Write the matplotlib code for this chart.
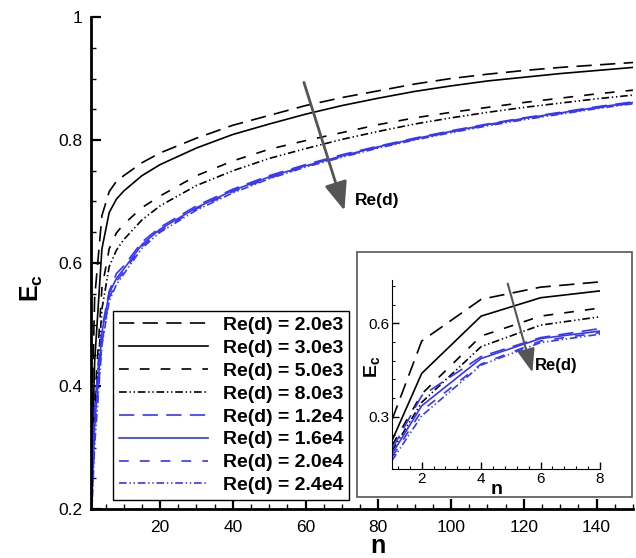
import matplotlib
matplotlib.use("Agg")
import matplotlib.pyplot as plt
from matplotlib.patches import Rectangle
from matplotlib.ticker import MultipleLocator, FixedLocator, FixedFormatter

plt.rcParams["font.family"] = ["Liberation Sans", "DejaVu Sans"]
plt.rcParams["mathtext.fontset"] = "custom"
plt.rcParams["mathtext.rm"] = "Liberation Sans"
plt.rcParams["mathtext.bf"] = "Liberation Sans:bold"
plt.rcParams["lines.scale_dashes"] = False

# sample points along n
n_vals = [1, 2, 4, 6, 8, 10, 15, 20, 30, 40, 50, 60, 70, 80, 90, 100, 110, 120, 130, 140, 150]

ec_2000 = [0.290, 0.543, 0.677, 0.716, 0.733, 0.742, 0.763, 0.779, 0.803, 0.824, 0.840,
           0.856, 0.869, 0.880, 0.891, 0.900, 0.907, 0.913, 0.918, 0.922, 0.926]
ec_3000 = [0.223, 0.439, 0.623, 0.682, 0.704, 0.717, 0.742, 0.760, 0.787, 0.809, 0.826,
           0.842, 0.856, 0.868, 0.879, 0.888, 0.896, 0.902, 0.908, 0.913, 0.918]
ec_5000 = [0.207, 0.373, 0.559, 0.623, 0.649, 0.663, 0.690, 0.709, 0.742, 0.766, 0.785,
           0.799, 0.812, 0.825, 0.836, 0.845, 0.853, 0.861, 0.868, 0.875, 0.881]
ec_8000 = [0.190, 0.346, 0.525, 0.594, 0.621, 0.638, 0.670, 0.693, 0.726, 0.750, 0.770,
           0.786, 0.801, 0.814, 0.826, 0.836, 0.845, 0.853, 0.860, 0.867, 0.873]
ec_12000 = [0.196, 0.367, 0.493, 0.554, 0.583, 0.595, 0.634, 0.658, 0.693, 0.720, 0.742,
            0.760, 0.776, 0.790, 0.803, 0.815, 0.826, 0.836, 0.845, 0.854, 0.862]
ec_16000 = [0.180, 0.335, 0.487, 0.551, 0.575, 0.590, 0.630, 0.655, 0.690, 0.718, 0.740,
            0.758, 0.774, 0.789, 0.802, 0.814, 0.825, 0.835, 0.844, 0.853, 0.861]
ec_20000 = [0.170, 0.319, 0.469, 0.543, 0.570, 0.586, 0.627, 0.652, 0.688, 0.716, 0.738,
            0.757, 0.773, 0.788, 0.801, 0.813, 0.824, 0.834, 0.843, 0.852, 0.860]
ec_24000 = [0.159, 0.303, 0.466, 0.538, 0.565, 0.582, 0.624, 0.650, 0.686, 0.714, 0.737,
            0.756, 0.772, 0.787, 0.800, 0.812, 0.823, 0.833, 0.842, 0.851, 0.859]

labels = ["Re(d) = 2.0e3", "Re(d) = 3.0e3", "Re(d) = 5.0e3", "Re(d) = 8.0e3",
          "Re(d) = 1.2e4", "Re(d) = 1.6e4", "Re(d) = 2.0e4", "Re(d) = 2.4e4"]
series = [ec_2000, ec_3000, ec_5000, ec_8000, ec_12000, ec_16000, ec_20000, ec_24000]

BLUE = "#3535ff"
LONG = (11, 6)
MED = (7, 8)
DDOT = (5.5, 2, 1, 2, 1, 2)
styles = [
    dict(color="black", dashes=LONG),
    dict(color="black", linestyle="-"),
    dict(color="black", dashes=MED),
    dict(color="black", dashes=DDOT),
    dict(color=BLUE, dashes=LONG),
    dict(color=BLUE, linestyle="-"),
    dict(color=BLUE, dashes=MED),
    dict(color=BLUE, dashes=DDOT),
]

fig = plt.figure(figsize=(6.36, 5.58), dpi=100)
ax = fig.add_axes([91 / 636, 1 - 509 / 558, 542 / 636, 492 / 558])

for ys, lab, st in zip(series, labels, styles):
    ax.plot(n_vals, ys, lw=1.2, label=lab, **st)

ax.set_xlim(1, 150)
ax.set_ylim(0.2, 1.0)
ax.xaxis.set_major_locator(FixedLocator([20, 40, 60, 80, 100, 120, 140]))
ax.xaxis.set_minor_locator(MultipleLocator(5))
ax.yaxis.set_major_locator(FixedLocator([0.2, 0.4, 0.6, 0.8, 1.0]))
ax.yaxis.set_major_formatter(FixedFormatter(["0.2", "0.4", "0.6", "0.8", "1"]))
ax.yaxis.set_minor_locator(MultipleLocator(0.05))
for s in ["top", "right"]:
    ax.spines[s].set_visible(False)
for s in ["left", "bottom"]:
    ax.spines[s].set_linewidth(2.0)
ax.tick_params(which="major", direction="in", length=7, width=1.6, labelsize=12.5)
ax.tick_params(which="minor", direction="in", length=3.5, width=1.0)
ax.tick_params(axis="x", which="major", pad=8)
ax.tick_params(axis="y", which="major", pad=6)
ax.set_xlabel("n", fontsize=18, fontweight="bold")
ax.set_ylabel(r"$\mathbf{E_c}$", fontsize=18)
ax.xaxis.set_label_coords(0.53, -0.05)
ax.yaxis.set_label_coords(-0.085, 0.45)

ax.annotate("", xy=(70.9, 0.681), xytext=(59.3, 0.898),
            arrowprops=dict(arrowstyle="-|>,head_length=0.7,head_width=0.28",
                            mutation_scale=25, color="#555555", lw=2))
ax.text(73.6, 0.702, "Re(d)", fontsize=12.5, fontweight="bold", va="center", ha="left")

leg = ax.legend(loc="lower left", bbox_to_anchor=(113 / 636, 1 - 500 / 558),
                bbox_transform=fig.transFigure, borderaxespad=0, fancybox=False,
                framealpha=1, edgecolor="black", handlelength=4.6, handletextpad=0.75,
                labelspacing=0.27, borderpad=0.3, prop=dict(size=14, weight="bold"))
leg.get_frame().set_linewidth(1.0)

# inset frame and axes
fig.patches.append(Rectangle((357 / 636, 1 - 497 / 558), 275 / 636, 245 / 558,
                             transform=fig.transFigure, facecolor="white",
                             edgecolor="#555555", lw=1.2, zorder=2))
axin = fig.add_axes([392 / 636, 1 - 469 / 558, 208 / 636, 189 / 558], zorder=3)
for ys, lab, st in zip(series, labels, styles):
    axin.plot(n_vals, ys, lw=1.2, **st)
axin.set_xlim(1, 8)
axin.set_ylim(0.132, 0.739)
axin.xaxis.set_major_locator(FixedLocator([2, 4, 6, 8]))
axin.xaxis.set_minor_locator(MultipleLocator(0.4))
axin.yaxis.set_major_locator(FixedLocator([0.3, 0.6]))
axin.yaxis.set_minor_locator(MultipleLocator(0.06))
for s in ["top", "right"]:
    axin.spines[s].set_visible(False)
axin.tick_params(which="major", direction="in", length=5, width=1.0, labelsize=11, pad=2)
axin.tick_params(which="minor", direction="in", length=2.5, width=0.8)
axin.set_xlabel("n", fontsize=14, fontweight="bold")
axin.set_ylabel(r"$\mathbf{E_c}$", fontsize=14)
axin.xaxis.set_label_coords(0.505, -0.065)
axin.yaxis.set_label_coords(-0.05, 0.54)
axin.annotate("", xy=(5.75, 0.434), xytext=(4.87, 0.736),
              arrowprops=dict(arrowstyle="-|>,head_length=0.8,head_width=0.3",
                              mutation_scale=18, color="#555555", lw=1.5))
axin.text(5.81, 0.466, "Re(d)", fontsize=12, fontweight="bold", va="center", ha="left")

fig.savefig("out.png", dpi=100)
